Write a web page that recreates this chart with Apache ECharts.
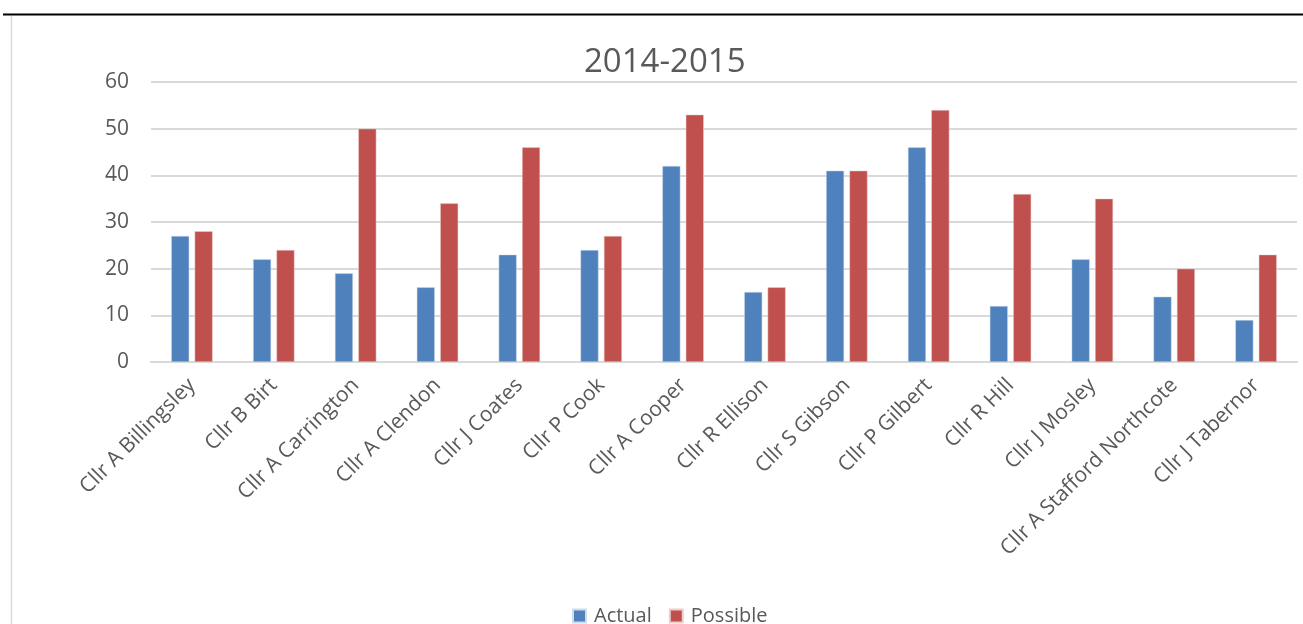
<!DOCTYPE html>
<html><head><meta charset="utf-8">
<script src="https://cdn.jsdelivr.net/npm/echarts@6/dist/echarts.min.js"></script>
<style>html,body{margin:0;padding:0;background:#fff}#c{width:1303px;height:624px}</style>
</head><body><div id="c"></div>
<script>
const categories = ["Cllr A Billingsley","Cllr B Birt","Cllr A Carrington","Cllr A Clendon","Cllr J Coates","Cllr P Cook","Cllr A Cooper","Cllr R Ellison","Cllr S Gibson","Cllr P Gilbert","Cllr R Hill","Cllr J Mosley","Cllr A Stafford Northcote","Cllr J Tabernor"];
const actual = [27,22,19,16,23,24,42,15,41,46,12,22,14,9];
const possible = [28,24,50,34,46,27,53,16,41,54,36,35,20,23];
const yTicks = [0,10,20,30,40,50,60];
const titleText = "2014-2015";
const font = "'Open Sans', sans-serif";
const chart = echarts.init(document.getElementById('c'));
chart.setOption({
  animation:false,
  title:{text:titleText,left:579,top:41,textStyle:{fontFamily:font,fontSize:33,fontWeight:'normal',color:'#595959'}},
  legend:{top:601,left:567,itemWidth:13,itemHeight:13,itemGap:17,icon:'rect',textStyle:{fontFamily:font,fontSize:20,color:'#595959',padding:[0,0,0,3]},data:['Actual','Possible']},
  grid:{left:151,right:6,top:82,bottom:262,containLabel:false},
  xAxis:{type:'category',data:categories,axisLine:{lineStyle:{color:'#d9d9d9',width:2}},axisTick:{show:false},
    axisLabel:{rotate:45,interval:0,fontFamily:font,fontSize:21,color:'#595959',margin:20}},
  yAxis:{type:'value',min:yTicks[0],max:yTicks[yTicks.length-1],interval:10,
    axisLabel:{fontFamily:font,fontSize:21,color:'#595959',margin:22},
    splitLine:{lineStyle:{color:'#d9d9d9',width:2}},axisLine:{show:false},axisTick:{show:false}},
  series:[
    {name:'Actual',type:'bar',data:actual,barWidth:18,barGap:'30%',itemStyle:{color:'#4f81bd',borderColor:'#d0dcec',borderWidth:0.5}},
    {name:'Possible',type:'bar',data:possible,barWidth:18,itemStyle:{color:'#c0504d',borderColor:'#ecd0cf',borderWidth:0.5}}
  ],
  graphic:[
    {type:'line',shape:{x1:3,y1:14.5,x2:1303,y2:14.5},style:{stroke:'#000',lineWidth:2}},
    {type:'line',shape:{x1:11.5,y1:16,x2:11.5,y2:624},style:{stroke:'#d9d9d9',lineWidth:1.5}}
  ]
});
</script></body></html>
